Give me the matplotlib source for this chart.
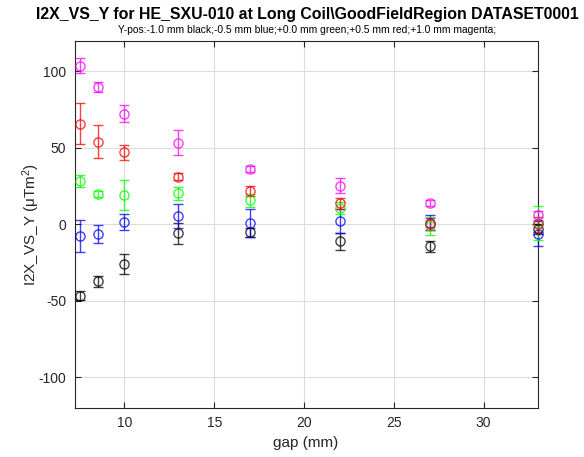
import matplotlib
matplotlib.use("Agg")
import matplotlib.pyplot as plt

plt.rcParams['font.family'] = ['Liberation Sans', 'DejaVu Sans']
plt.rcParams['axes.unicode_minus'] = False

gap = [7.5, 8.5, 10, 13, 17, 22, 27, 33]

black = [-46.5, -37.3, -25.9, -5.9, -5.1, -11.0, -14.3, -3.0]
black_err = [3.0, 3.8, 6.8, 7.1, 3.0, 5.5, 3.5, 3.0]
blue = [-7.7, -6.2, 1.5, 5.5, 1.1, 2.2, 1.0, -6.0]
blue_err = [10.3, 5.7, 5.5, 7.7, 9.2, 7.9, 5.0, 8.0]
green = [28.5, 19.7, 19.1, 20.4, 15.8, 10.5, -1.0, 1.0]
green_err = [3.8, 1.8, 9.9, 4.3, 4.2, 4.0, 6.0, 11.0]
red = [65.8, 54.1, 47.1, 31.1, 21.5, 13.8, 0.0, 0.0]
red_err = [13.5, 10.6, 4.8, 2.2, 3.3, 3.5, 4.0, 5.0]
magenta = [103.7, 89.7, 72.4, 53.3, 36.2, 25.2, 14.2, 6.0]
magenta_err = [4.7, 3.0, 5.3, 8.2, 2.2, 5.0, 2.0, 3.0]

series = [
    (black, black_err, '#000000'),
    (blue, blue_err, '#0000ff'),
    (green, green_err, '#00ff00'),
    (red, red_err, '#ff0000'),
    (magenta, magenta_err, '#ff00ff'),
]

fig = plt.figure(figsize=(5.84, 4.57), dpi=100)
ax = fig.add_axes([0.1276, 0.1072, 0.7928, 0.8038])

for vals, errs, col in series:
    eb = ax.errorbar(gap, vals, yerr=errs, fmt='o', color=col, mfc='none',
                     mec=col, ms=6.6, mew=1.0, elinewidth=1.0, capsize=3.8,
                     capthick=1.0, alpha=0.75, zorder=3)
    arts = [eb.lines[0]] + list(eb.lines[1]) + list(eb.lines[2])
    for art in arts:
        art.set_clip_on(False)

ax.set_xlim(7.22, 33)
ax.set_ylim(-120, 120)
ax.set_xticks([10, 15, 20, 25, 30])
ax.set_yticks([-100, -50, 0, 50, 100])
ax.grid(True, color='#dcdcdc', linewidth=0.8)
ax.set_axisbelow(True)
ax.tick_params(direction='in', top=True, right=True, length=4, width=0.8,
               colors='#262626', labelsize=10, pad=6)
for s in ax.spines.values():
    s.set_color('#262626')
    s.set_linewidth(0.8)

ax.set_xlabel('gap (mm)', fontsize=11, color='#262626')
ax.set_ylabel('I2X_VS_Y ($\\mathregular{\\mu Tm^2}$)', fontsize=11, color='#262626',
              labelpad=-2.5)

fig.text(0.526, 0.968, 'I2X_VS_Y for HE_SXU-010 at Long Coil\\GoodFieldRegion DATASET0001',
         ha='center', va='center', fontsize=11.4, fontweight='bold')
fig.text(0.526, 0.934, 'Y-pos:-1.0 mm black;-0.5 mm blue;+0.0 mm green;+0.5 mm red;+1.0 mm magenta;',
         ha='center', va='center', fontsize=7.4)

fig.savefig('out.png', dpi=100)
